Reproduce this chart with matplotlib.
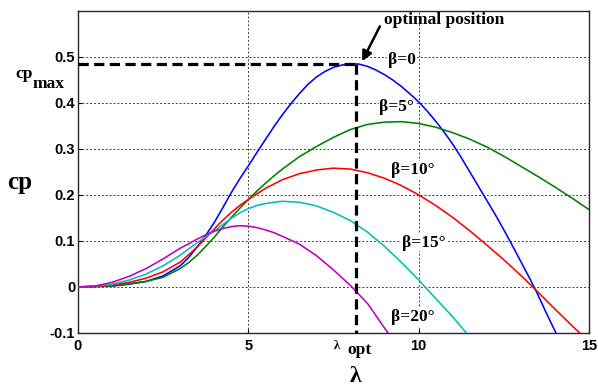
import matplotlib
matplotlib.use("Agg")
import matplotlib.pyplot as plt
from matplotlib.font_manager import FontProperties

# ---- data ----
lam_b0 = [0, 0.5, 1, 1.5, 2, 2.5, 3, 3.25, 3.5, 3.75, 4, 4.25, 4.5, 4.75, 5, 5.25, 5.5, 5.75, 6, 6.25, 6.5, 6.75,
          7, 7.25, 7.5, 7.75, 8, 8.25, 8.5, 8.75, 9, 9.25, 9.5, 9.75, 10, 10.25, 10.5, 10.75, 11, 11.25, 11.5,
          11.75, 12, 12.25, 12.5, 12.75, 13, 13.25, 13.5, 13.75, 14.03]
cp_b0 = [0, 0.001, 0.002, 0.006, 0.012, 0.024, 0.046, 0.064, 0.087, 0.112, 0.14, 0.172, 0.205, 0.235, 0.263, 0.292,
         0.32, 0.348, 0.374, 0.398, 0.42, 0.44, 0.456, 0.468, 0.477, 0.482, 0.485, 0.484, 0.479, 0.471, 0.461,
         0.449, 0.435, 0.419, 0.402, 0.382, 0.36, 0.336, 0.31, 0.281, 0.25, 0.219, 0.188, 0.157, 0.124, 0.09,
         0.055, 0.02, -0.017, -0.057, -0.1]

lam_b5 = [0, 0.5, 1, 1.5, 2, 2.5, 3, 3.25, 3.5, 3.75, 4, 4.25, 4.5, 4.75, 5, 5.25, 5.5, 5.75, 6, 6.5, 7, 7.5, 8,
          8.5, 9, 9.5, 10, 10.5, 11, 11.5, 12, 12.5, 13, 13.5, 14, 14.5, 15]
cp_b5 = [0, 0.001, 0.002, 0.007, 0.012, 0.021, 0.04, 0.053, 0.069, 0.088, 0.108, 0.13, 0.151, 0.171, 0.19, 0.208,
         0.225, 0.241, 0.256, 0.283, 0.305, 0.325, 0.342, 0.353, 0.358, 0.359, 0.355, 0.347, 0.335, 0.321, 0.304,
         0.284, 0.262, 0.24, 0.217, 0.193, 0.168]

lam_b10 = [0, 0.5, 1, 1.5, 2, 2.5, 3, 3.25, 3.5, 3.75, 4, 4.25, 4.5, 4.75, 5, 5.5, 6, 6.5, 7, 7.5, 8, 8.5, 9, 9.5,
           10, 10.5, 11, 11.5, 12, 12.5, 13, 13.5, 14, 14.5, 14.73]
cp_b10 = [0, 0.001, 0.004, 0.01, 0.019, 0.033, 0.054, 0.07, 0.087, 0.106, 0.126, 0.145, 0.162, 0.177, 0.19, 0.214,
          0.233, 0.246, 0.254, 0.258, 0.256, 0.248, 0.236, 0.22, 0.2, 0.177, 0.151, 0.122, 0.091, 0.059, 0.025,
          -0.011, -0.048, -0.084, -0.1]

lam_b15 = [0, 0.5, 1, 1.5, 2, 2.5, 3, 3.5, 4, 4.5, 4.75, 5, 5.25, 5.5, 5.75, 6, 6.5, 7, 7.5, 8, 8.5, 9, 9.5, 10,
           10.5, 11, 11.4]
cp_b15 = [0, 0.002, 0.006, 0.015, 0.028, 0.046, 0.069, 0.096, 0.122, 0.149, 0.161, 0.17, 0.177, 0.181, 0.184, 0.186,
          0.184, 0.176, 0.162, 0.144, 0.119, 0.088, 0.053, 0.015, -0.025, -0.065, -0.1]

lam_b20 = [0, 0.5, 1, 1.5, 2, 2.5, 3, 3.5, 3.75, 4, 4.25, 4.5, 4.75, 5, 5.25, 5.5, 5.75, 6, 6.5, 7, 7.5, 8, 8.5, 9.1]
cp_b20 = [0, 0.002, 0.01, 0.023, 0.04, 0.061, 0.084, 0.104, 0.113, 0.121, 0.127, 0.131, 0.133, 0.132, 0.129, 0.124,
          0.118, 0.11, 0.093, 0.068, 0.037, 0.003, -0.036, -0.1]

series = [
    (lam_b0, cp_b0, "#0000ff", "β=0"),
    (lam_b5, cp_b5, "#008000", "β=5°"),
    (lam_b10, cp_b10, "#ff0000", "β=10°"),
    (lam_b15, cp_b15, "#00bfbf", "β=15°"),
    (lam_b20, cp_b20, "#bf00bf", "β=20°"),
]

lam_opt = 8.15
cp_max = 0.485

x_ticks = [0, 5, 10, 15]
y_ticks = [-0.1, 0, 0.1, 0.2, 0.3, 0.4, 0.5]
y_tick_labels = ["-0.1", "0", "0.1", "0.2", "0.3", "0.4", "0.5"]

W, H = 598, 387
fig = plt.figure(figsize=(W / 100, H / 100), dpi=100)
ax = fig.add_axes([78 / W, 1 - 333 / H, (589 - 78) / W, (333 - 10.7) / H])

for lam, cp, col, _ in series:
    ax.plot(lam, cp, color=col, lw=1.15, zorder=3)

ax.set_xlim(0, 15)
ax.set_ylim(-0.1, 0.6)
ax.set_xticks(x_ticks)
ax.set_yticks(y_ticks)
ax.set_yticklabels(y_tick_labels)

tick_fp = FontProperties(family="Liberation Sans", weight="bold", size=10.5)
for lab in ax.get_xticklabels() + ax.get_yticklabels():
    lab.set_fontproperties(tick_fp)
ax.tick_params(direction="in", length=3, width=0.8, pad=2)
ax.tick_params(axis="x", pad=4)

ax.grid(True, color="0.25", linestyle=(0, (2, 2)), linewidth=0.7)
ax.set_axisbelow(True)
for s in ax.spines.values():
    s.set_linewidth(1.0)
    s.set_color("0.15")

# optimal point dashed guides
ax.plot([0, lam_opt], [cp_max, cp_max], color="black", lw=2.3, dashes=(3.2, 1.7), zorder=4, clip_on=False)
ax.plot([lam_opt, lam_opt], [cp_max, -0.1], color="black", lw=2.3, dashes=(3.2, 1.7), zorder=4, clip_on=False)

serif = ["Liberation Serif", "DejaVu Serif"]
lbl = dict(family=serif, weight="bold", size=12.5, ha="center", va="center")

# curve labels
label_pos = [(9.51, 0.492), (9.36, 0.39), (9.83, 0.255), (10.15, 0.096), (9.83, -0.065)]
for (x, y), (_, _, _, txt) in zip(label_pos, series):
    ax.text(x, y, txt, zorder=5,
            bbox=dict(facecolor="white", edgecolor="none", pad=0.5), **lbl)

ax.text(10.74, 0.579, "optimal position", zorder=5, **lbl)
ax.annotate("", xy=(8.34, 0.49), xytext=(8.86, 0.566),
            arrowprops=dict(arrowstyle="-|>,head_length=0.6,head_width=0.3",
                            color="black", lw=1.8, shrinkA=0, shrinkB=0), zorder=6)


def px(x, y):
    return x / W, 1 - y / H


fig.text(*px(20, 183), "cp", family=serif, weight="bold", size=18, ha="center", va="center")
fig.text(*px(355, 376), "λ", family=serif, weight="bold", size=17, ha="center", va="center")
fig.text(*px(337, 346), "λ", family=serif, weight="bold", size=9, ha="center", va="center")
fig.text(*px(360, 350), "opt", family=serif, weight="bold", size=12.5, ha="center", va="center")
fig.text(*px(24, 74), "cp", family=serif, weight="bold", size=12.5, ha="center", va="center")
fig.text(*px(49, 84), "max", family=serif, weight="bold", size=12.5, ha="center", va="center")

fig.savefig("out.png", dpi=100)
